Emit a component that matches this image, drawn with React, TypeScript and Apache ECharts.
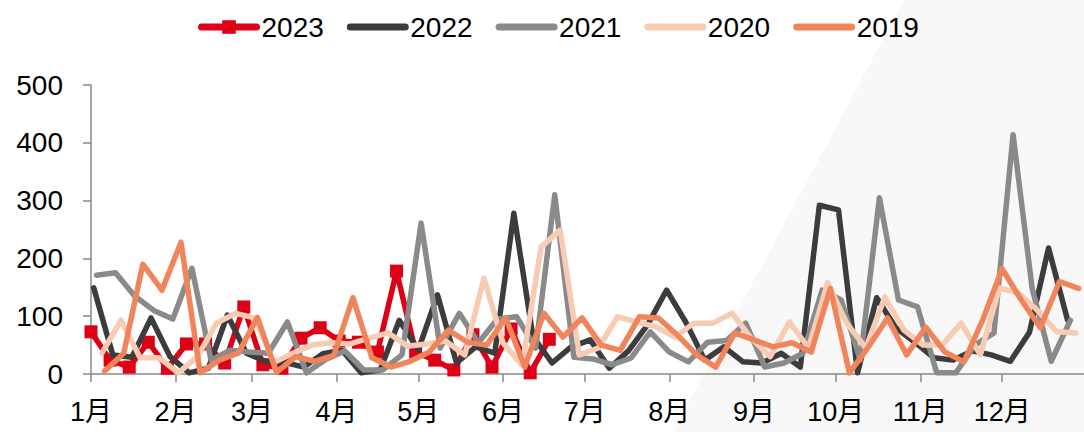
import React, { useEffect, useRef } from "react";
import * as echarts from "echarts";

const monthStartDays = [0, 31, 59, 90, 120, 151, 181, 212, 243, 273, 304, 334];
const monthLabels = ["1月", "2月", "3月", "4月", "5月", "6月", "7月", "8月", "9月", "10月", "11月", "12月"];
const seriesNames = ["2023", "2022", "2021", "2020", "2019"];
const seriesColors = ["#dd0016", "#3c3c3c", "#8a8a8a", "#f8cbb4", "#f0855c"];
const weekStartDay = [0, 1, 2, 4, 5];

const values2023 = [73, 24, 12, 55, 10, 52, 52, 19, 116, 16, 10, 62, 80, 57, 55, 38, 178, 38, 24, 7, 68, 12, 78, 2, 60];
const values2022 = [149, 33, 29, 97, 30, 2, 10, 102, 36, 22, 20, 12, 35, 41, 2, 7, 93, 42, 137, 19, 47, 36, 278, 65, 19, 47, 59, 10, 40, 85, 145, 90, 24, 47, 21, 19, 36, 12, 292, 284, 2, 132, 80, 55, 28, 24, 40, 33, 22, 72, 218, 93];
const values2021 = [171, 175, 135, 110, 95, 183, 24, 41, 38, 36, 90, 2, 25, 40, 7, 7, 33, 261, 45, 105, 54, 95, 99, 45, 310, 29, 26, 16, 28, 73, 38, 21, 55, 58, 88, 12, 19, 36, 145, 128, 24, 305, 128, 116, 2, 2, 50, 71, 414, 148, 22, 93];
const values2020 = [36, 93, 28, 28, 2, 30, 88, 105, 97, 20, 36, 50, 54, 52, 62, 71, 48, 52, 57, 33, 166, 54, 15, 220, 249, 33, 45, 99, 90, 82, 64, 88, 88, 105, 62, 30, 90, 45, 158, 88, 45, 133, 76, 50, 50, 88, 33, 149, 140, 110, 73, 71];
const values2019 = [5, 36, 190, 145, 228, 2, 24, 36, 98, 3, 30, 22, 32, 132, 28, 12, 22, 38, 76, 55, 50, 97, 12, 105, 64, 97, 50, 41, 99, 97, 67, 33, 12, 71, 59, 47, 54, 38, 148, 2, 47, 97, 33, 81, 38, 21, 95, 182, 128, 80, 160, 148];

const allValues = [values2023, values2022, values2021, values2020, values2019];

const FONT = "'Liberation Sans', 'Noto Sans CJK SC', sans-serif";

export default function App() {
  const ref = useRef<HTMLDivElement>(null);
  useEffect(() => {
    document.body.style.margin = "0";
    if (!ref.current) return;
    const chart = echarts.init(ref.current, undefined, { renderer: "svg" });
    const series = allValues.map((vals, s) => ({
      name: seriesNames[s],
      type: "line",
      data: vals.map((v, i) => [weekStartDay[s] + 7 * i, v]),
      symbol: s === 0 ? "rect" : "none",
      symbolSize: 13,
      showSymbol: s === 0,
      lineStyle: { width: 5.5, color: seriesColors[s], cap: "round", join: "round" },
      itemStyle: { color: seriesColors[s] },
      z: 2 + s,
    }));
    chart.setOption({
      animation: false,
      backgroundColor: "#ffffff",
      graphic: [
        {
          type: "polygon",
          silent: true,
          z: -10,
          shape: { points: [[904, 0], [1084, 0], [1084, 432], [673, 432]] },
          style: { fill: "#f8f8f8" },
        },
      ],
      legend: {
        data: seriesNames.map((n, s) => ({
          name: n,
          itemStyle: s === 0 ? { color: seriesColors[s] } : { opacity: 0 },
        })),
        left: 193,
        top: 8,
        itemWidth: 55,
        itemHeight: 17,
        itemGap: 23,
        lineStyle: { width: 7, cap: "round" },
        textStyle: { fontSize: 28, color: "#000", fontFamily: FONT },
      },
      grid: { left: 91, right: 0, top: 85, bottom: 58, containLabel: false },
      xAxis: {
        type: "value",
        min: 0,
        max: 364,
        splitLine: { show: false },
        axisLine: { show: true, lineStyle: { color: "#898989", width: 1.5 } },
        axisTick: { show: true, length: 8, customValues: monthStartDays, lineStyle: { color: "#898989", width: 1.5 } },
        axisLabel: {
          customValues: monthStartDays,
          formatter: (v: number) => monthLabels[monthStartDays.indexOf(Math.round(v))] ?? "",
          fontSize: 27,
          color: "#000",
          fontFamily: FONT,
          margin: 24,
        },
      },
      yAxis: {
        type: "value",
        min: 0,
        max: 500,
        interval: 100,
        splitLine: { show: false },
        axisLine: { show: true, lineStyle: { color: "#898989", width: 1.5 } },
        axisTick: { show: true, length: 8, lineStyle: { color: "#898989", width: 1.5 } },
        axisLabel: { fontSize: 28, color: "#000", fontFamily: FONT, margin: 28 },
      },
      series,
    });
    return () => chart.dispose();
  }, []);
  return <div ref={ref} style={{ width: 1084, height: 432 }} />;
}
